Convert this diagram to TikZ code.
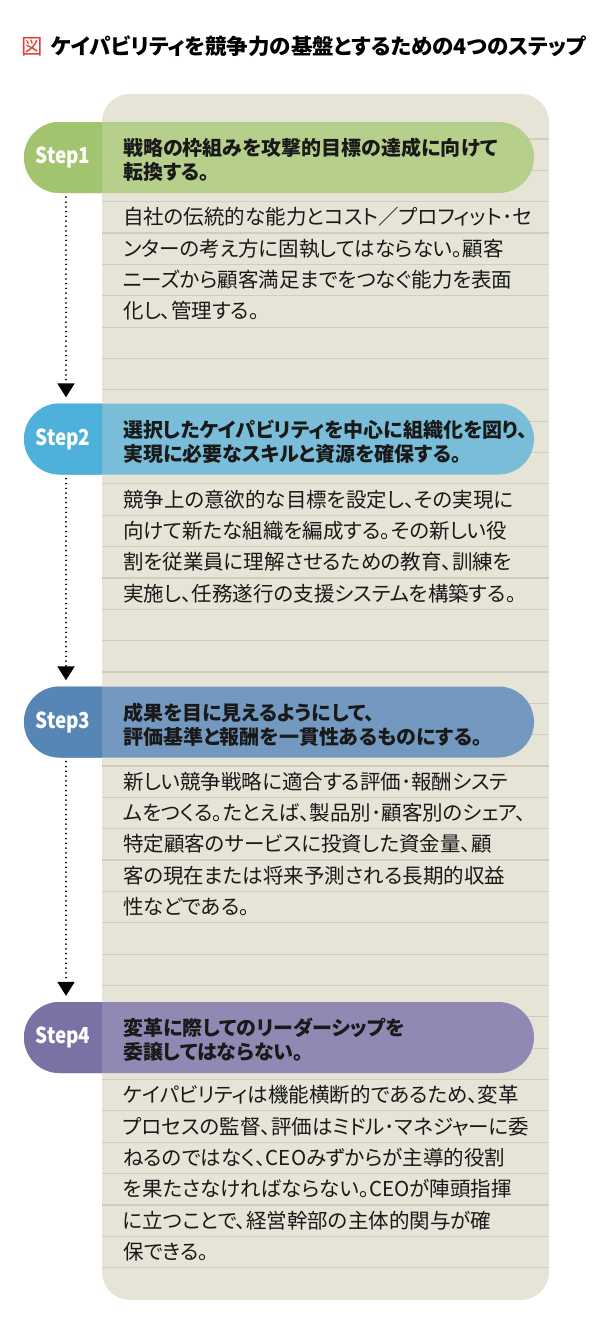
\documentclass[tikz,border=0pt]{standalone}
\usepackage{fontspec}
\usepackage{graphicx}
\usetikzlibrary{arrows.meta}
\newfontfamily\jpfont[RawFeature=+palt]{Noto Sans CJK JP}
\definecolor{panel}{HTML}{E6E4D6}
\definecolor{rulegray}{HTML}{D0CCBE}
\definecolor{figred}{HTML}{E03A36}
\definecolor{s1dark}{HTML}{A3C46F}
\definecolor{s1light}{HTML}{B6CF8B}
\definecolor{s2dark}{HTML}{4DB1DB}
\definecolor{s2light}{HTML}{7ABDD9}
\definecolor{s3dark}{HTML}{5686B6}
\definecolor{s3light}{HTML}{7399C0}
\definecolor{s4dark}{HTML}{7A72A5}
\definecolor{s4light}{HTML}{9089B4}

\begin{document}
\begin{tikzpicture}[x=1pt,y=-1pt,
  rule/.style={draw=rulegray,line width=1.2pt},
  stepname/.style={minimum width=78pt,minimum height=71pt,inner sep=0pt,text=white,
    font=\jpfont\bfseries\fontsize{22}{24}\selectfont},
  headtext/.style={anchor=west,align=left,inner sep=0pt,text=black!90,
    font=\jpfont\bfseries\fontsize{20}{24}\selectfont},
  bodytext/.style={anchor=west,inner sep=0pt,text=black!90,text height=18pt,text depth=3pt,
    font=\jpfont\fontsize{20.5}{24}\selectfont},
  flowarrow/.style={line width=2pt,line cap=round,dash pattern=on 0pt off 4.8pt,
    shorten <=4pt,shorten >=6pt,-{Triangle[width=17pt,length=14pt,sharp]}}]
\useasboundingbox (0,0) rectangle (610,1334);

% title
\node[anchor=west,inner sep=0pt,font=\jpfont\bfseries\fontsize{21.5}{24}\selectfont] (title) at (21,46)
  {\textcolor{figred}{\mdseries 図}\hspace{8pt}ケイパビリティを競争力の基盤とするための4つのステップ};

% ruled sheet
\fill[panel,rounded corners=28pt] (102,94) rectangle (549,1300);
\foreach \k in {0,...,36}
  \draw[rule] (102,139+31.35*\k) -- (549,139+31.35*\k);

% step bars
\foreach \y/\dk/\lt in {157.5/s1dark/s1light,439/s2dark/s2light,722/s3dark/s3light,1037.5/s4dark/s4light}{
  \fill[\lt,rounded corners=35.5pt] (24,\y-35.5) rectangle (534,\y+35.5);
  \fill[\dk] (102,\y-35.5) -- (59.5,\y-35.5) arc[start angle=270,end angle=90,radius=35.5] -- (102,\y+35.5) -- cycle;
}

\node[stepname] (step1) at (63,157.5) {\scalebox{0.86}[1]{Step1}};
\node[stepname] (step2) at (63,439) {\scalebox{0.86}[1]{Step2}};
\node[stepname] (step3) at (63,722) {\scalebox{0.86}[1]{Step3}};
\node[stepname] (step4) at (63,1037.5) {\scalebox{0.86}[1]{Step4}};

\node[headtext] (head1) at (123,160) {戦略の枠組みを攻撃的目標の達成に向けて\\転換する。};
\node[headtext] (head2) at (123,441.5) {選択したケイパビリティを中心に組織化を図り、\\実現に必要なスキルと資源を確保する。};
\node[headtext] (head3) at (123,724.5) {成果を目に見えるようにして、\\評価基準と報酬を一貫性あるものにする。};
\node[headtext] (head4) at (123,1040) {変革に際してのリーダーシップを\\委譲してはならない。};

% body texts, one per ruled line
\foreach \t [count=\i from 0] in {自社の伝統的な能力とコスト／プロフィット･セ,
  ンターの考え方に固執してはならない。顧客,
  ニーズから顧客満足までをつなぐ能力を表面,
  化し、管理する。}
  \node[bodytext] (body1-\i) at (123,217.4+31.35*\i) {\t};
\foreach \t [count=\i from 0] in {競争上の意欲的な目標を設定し、その実現に,
  向けて新たな組織を編成する。その新しい役,
  割を従業員に理解させるための教育、訓練を,
  実施し、任務遂行の支援システムを構築する。}
  \node[bodytext] (body2-\i) at (123,499.5+31.35*\i) {\t};
\foreach \t [count=\i from 0] in {新しい競争戦略に適合する評価･報酬システ,
  ムをつくる。たとえば、製品別･顧客別のシェア、,
  特定顧客のサービスに投資した資金量、顧,
  客の現在または将来予測される長期的収益,
  性などである。}
  \node[bodytext] (body3-\i) at (123,781.7+31.35*\i) {\t};
\foreach \t [count=\i from 0] in {ケイパビリティは機能横断的であるため、変革,
  プロセスの監督、評価はミドル･マネジャーに委,
  ねるのではなく、CEOみずからが主導的役割,
  を果たさなければならない。CEOが陣頭指揮,
  に立つことで、経営幹部の主体的関与が確,
  保できる。}
  \node[bodytext] (body4-\i) at (123,1095.2+31.35*\i) {\t};

% dotted connectors
\draw[flowarrow] ([xshift=3pt]step1.south) -- ([xshift=3pt]step2.north);
\draw[flowarrow] ([xshift=3pt]step2.south) -- ([xshift=3pt]step3.north);
\draw[flowarrow] ([xshift=3pt]step3.south) -- ([xshift=3pt]step4.north);
\end{tikzpicture}
\end{document}
